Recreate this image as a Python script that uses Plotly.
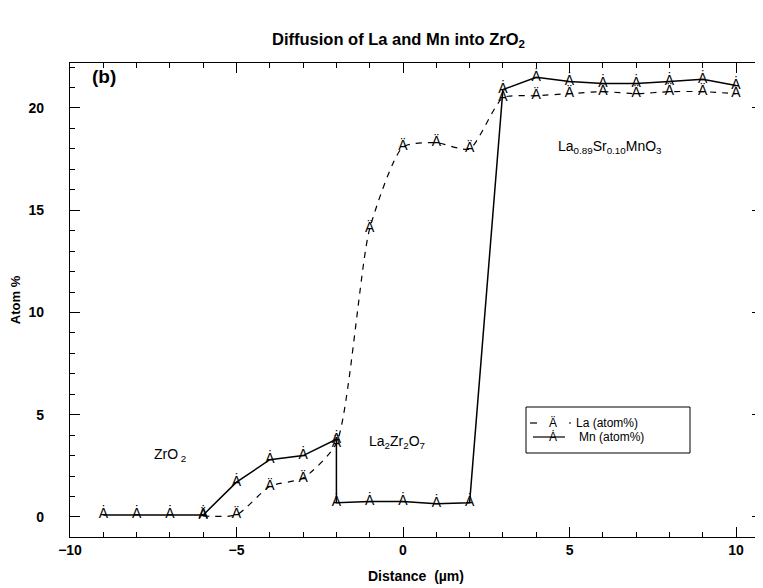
import plotly.graph_objects as go

# ---- data ----
x_mn = [-9, -8, -7, -6, -5, -4, -3, -2, -2, -1, 0, 1, 2, 3, 4, 5, 6, 7, 8, 9, 10]
mn = [0.1, 0.1, 0.1, 0.1, 1.7, 2.8, 3.0, 3.8, 0.7, 0.75, 0.75, 0.65, 0.7,
      20.9, 21.5, 21.3, 21.2, 21.2, 21.3, 21.4, 21.1]
x_la = [-6, -5, -4, -3, -2, -1, 0, 1, 2, 3, 4, 5, 6, 7, 8, 9, 10]
la = [0.05, 0.1, 1.5, 1.9, 3.6, 14.1, 18.1, 18.3, 18.0,
      20.5, 20.6, 20.7, 20.8, 20.7, 20.8, 20.8, 20.7]
x_ticks = [-10, -5, 0, 5, 10]
y_ticks = [0, 5, 10, 15, 20]

# page has an 8px body margin: figure drawn at (8, 8)
OFF = 8
W, H = 755, 580
L, R, T, B = 62, 1, 55, 51
PW, PH = W - L - R, H - T - B


def px(x):
    return (x - OFF - L) / PW


def py(y):
    return (H - B - (y - OFF)) / PH


FONT = "Liberation Sans, Arial, sans-serif"
fig = go.Figure()

fig.add_trace(go.Scatter(
    x=x_la, y=la, mode="lines+text", text=["Ä"] * len(x_la),
    textposition="middle center", textfont=dict(family=FONT, size=14, color="black"),
    line=dict(color="black", width=1.2, dash="6px,6px", shape="spline", smoothing=0.6),
    showlegend=False, cliponaxis=False))
fig.add_trace(go.Scatter(
    x=x_mn, y=mn, mode="lines+text", text=["Ȧ"] * len(x_mn),
    textposition="middle center", textfont=dict(family=FONT, size=14, color="black"),
    line=dict(color="black", width=1.5),
    showlegend=False, cliponaxis=False))

axis_common = dict(
    showgrid=False, zeroline=False, showline=True, linecolor="black", linewidth=1.2,
    mirror="ticks", ticks="inside", ticklen=10, tickwidth=1, tickcolor="black",
    automargin=False,
    tickfont=dict(family=FONT, size=14, color="black", weight="bold"),
    minor=dict(ticks="inside", ticklen=5, dtick=1, tickcolor="black", tickwidth=1),
)

fig.update_xaxes(range=[-10, 10.78], tickvals=x_ticks, **axis_common,
                 title=dict(text="<b>Distance  (µm)</b>", standoff=14,
                            font=dict(family=FONT, size=14, color="black")))
fig.update_yaxes(range=[-0.98, 22.2], tickvals=y_ticks, ticklabelstandoff=22, **axis_common,
                 title=dict(text="<b>Atom %</b>", standoff=6,
                            font=dict(family=FONT, size=13, color="black")))

ann = [
    dict(x=px(398), y=py(40), text="<b>Diffusion of La and Mn into ZrO<sub>2</sub></b>",
         font=dict(size=16.5)),
    dict(x=px(104), y=py(77), text="<b>(b)</b>", font=dict(size=19)),
    dict(x=px(170), y=py(455), text="ZrO<sub> 2</sub>", font=dict(size=14)),
    dict(x=px(397), y=py(442), text="La<sub>2</sub>Zr<sub>2</sub>O<sub>7</sub>", font=dict(size=14)),
    dict(x=px(610), y=py(147), text="La<sub>0.89</sub>Sr<sub>0.10</sub>MnO<sub>3</sub>", font=dict(size=14)),
    # legend
    dict(x=px(553), y=py(423), text="Ä", font=dict(size=12)),
    dict(x=px(553), y=py(437), text="Ȧ", font=dict(size=12)),
    dict(x=px(574), y=py(423), text="La (atom%)", font=dict(size=12), xanchor="left"),
    dict(x=px(577), y=py(437), text="Mn (atom%)", font=dict(size=12), xanchor="left"),
]
for a in ann:
    a.setdefault("xanchor", "center")
    a.update(xref="paper", yref="paper", showarrow=False, yanchor="middle")
    a["font"] = dict(family=FONT, color="black", **a["font"])
fig.update_layout(annotations=ann)

shapes = [
    dict(type="rect", x0=px(526), x1=px(690), y0=py(407), y1=py(453),
         line=dict(color="black", width=1), fillcolor="white", layer="below"),
    dict(type="line", x0=px(530), x1=px(537), y0=py(423), y1=py(423),
         line=dict(color="black", width=1.2)),
    dict(type="line", x0=px(569), x1=px(571), y0=py(423), y1=py(423),
         line=dict(color="black", width=1.2)),
    dict(type="line", x0=px(533), x1=px(565), y0=py(437), y1=py(437),
         line=dict(color="black", width=1.2)),
]
for s in shapes:
    s.update(xref="paper", yref="paper")
fig.update_layout(shapes=shapes)

fig.update_layout(
    width=W, height=H, margin=dict(l=L, r=R, t=T, b=B),
    paper_bgcolor="white", plot_bgcolor="white",
    font=dict(family=FONT, color="black"),
)

fig.write_html("out.html")
